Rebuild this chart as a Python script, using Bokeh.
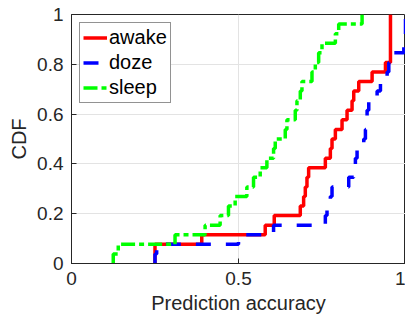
from bokeh.plotting import figure
from bokeh.models import FixedTicker, Legend, LegendItem
from bokeh.embed import file_html
from bokeh.resources import INLINE

# Sorted samples for each condition
awake = [0.25, 0.25, 0.39, 0.58, 0.607, 0.685, 0.695, 0.70, 0.705, 0.71,
         0.76, 0.775, 0.78, 0.79, 0.81, 0.825, 0.84, 0.845, 0.86, 0.90,
         0.94, 0.955, 0.955, 0.955, 0.955, 0.955]
doze = [0.25, 0.255, 0.50, 0.605, 0.76, 0.765, 0.775, 0.78, 0.83, 0.845,
        0.85, 0.855, 0.875, 0.88, 0.885, 0.885, 0.89, 0.915, 0.925, 0.945,
        0.95, 0.955, 0.995, 1.0, 1.0, 1.0]
sleep = [0.125, 0.14, 0.31, 0.40, 0.445, 0.47, 0.49, 0.525, 0.545, 0.565,
         0.585, 0.605, 0.61, 0.64, 0.645, 0.67, 0.675, 0.685, 0.69, 0.72,
         0.73, 0.74, 0.75, 0.79, 0.80, 0.87]

series_names = ["awake", "doze", "sleep"]
x_ticks = [0, 0.5, 1]
x_tick_labels = ["0", "0.5", "1"]
y_ticks = [0, 0.2, 0.4, 0.6, 0.8, 1]
y_tick_labels = ["0", "0.2", "0.4", "0.6", "0.8", "1"]


def ecdf_path(samples):
    s = sorted(samples)
    n = len(s)
    xs, ys = [s[0]], [0.0]
    for i, v in enumerate(s):
        xs.append(v)
        ys.append(i / n)
        xs.append(v)
        ys.append((i + 1) / n)
    return xs, ys


FONT = "Liberation Sans"
TXT = "#262626"

p = figure(width=405, height=320, output_backend="svg", toolbar_location=None,
           x_range=(0, 1), y_range=(0, 1),
           min_border_left=71, min_border_right=0, min_border_top=14,
           min_border_bottom=57)
p.background_fill_color = "white"
p.border_fill_color = "white"
p.outline_line_color = TXT
p.outline_line_width = 1

for ax, ticks, labels in ((p.xaxis[0], x_ticks, x_tick_labels),
                          (p.yaxis[0], y_ticks, y_tick_labels)):
    ax.ticker = FixedTicker(ticks=ticks)
    ax.major_label_overrides = {t: l for t, l in zip(ticks, labels)}
    ax.major_tick_in = 5
    ax.major_tick_out = 0
    ax.minor_tick_in = 0
    ax.minor_tick_out = 0
    ax.axis_line_color = TXT
    ax.major_tick_line_color = TXT
    ax.major_label_text_font = FONT
    ax.major_label_text_font_size = "19px"
    ax.major_label_text_color = TXT
    ax.axis_label_text_font = FONT
    ax.axis_label_text_font_size = "20px"
    ax.axis_label_text_font_style = "normal"
    ax.axis_label_text_color = TXT

p.xaxis.axis_label = "Prediction accuracy"
p.yaxis.axis_label = "CDF"
p.xaxis.major_label_standoff = 8
p.xaxis.axis_label_standoff = 4
p.yaxis.major_label_standoff = 8
p.yaxis.axis_label_standoff = 4

p.xgrid.ticker = FixedTicker(ticks=x_ticks)
p.ygrid.ticker = FixedTicker(ticks=y_ticks)
p.grid.grid_line_color = "#e3e3e3"
p.grid.grid_line_width = 1

colors = ["#ff0000", "#0000ff", "#00ff00"]
dashes = ["solid", "15 15", "14 4 5 4"]
items = []
for name, data, c, d in zip(series_names, [awake, doze, sleep], colors, dashes):
    xs, ys = ecdf_path(data)
    r = p.line(xs, ys, line_color=c, line_width=3.5, line_dash=d)
    items.append(LegendItem(label=name, renderers=[r]))

legend = Legend(items=items, location="top_left")
legend.label_text_font = FONT
legend.label_text_font_size = "20px"
legend.label_text_color = "black"
legend.label_height = 23
legend.glyph_height = 23
legend.glyph_width = 24
legend.label_standoff = 2
legend.spacing = 2
legend.padding = 3
legend.margin = 8
legend.border_line_color = TXT
legend.border_line_width = 1
legend.background_fill_color = "white"
legend.background_fill_alpha = 1
p.add_layout(legend)

open("out.html", "w").write(file_html(p, INLINE))
